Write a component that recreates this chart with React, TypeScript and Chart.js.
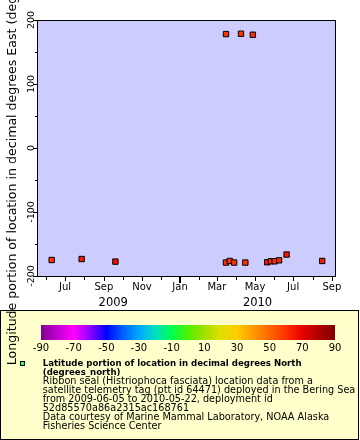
import React, { useEffect, useRef } from 'react';
import { Chart, registerables } from 'chart.js';

Chart.register(...registerables);

// ---------- data ----------
const pointDates = [
  '2009-06-09', '2009-07-27', '2009-09-19', '2010-03-15', '2010-03-15', '2010-03-21',
  '2010-03-28', '2010-04-08', '2010-04-15', '2010-04-27', '2010-05-20', '2010-05-26',
  '2010-06-01', '2010-06-08', '2010-06-20', '2010-08-16',
];
const longitudes = [
  -175, -173.5, -177.5, -179, 178, -176.5,
  -179, 178.5, -179, 177, -178.5, -177,
  -177, -175.5, -166.5, -176.5,
];
const latitudes = [
  60, 65, 67, 60, 60, 60,
  60, 60, 60, 61, 66, 61,
  61, 63, 65, 65,
];

const xRangeStart = '2009-05-17';
const xRangeEnd = '2010-09-06';
const yRangeMin = -200;
const yRangeMax = 200;
const yMajorTicks = [-200, -100, 0, 100, 200];
const yMinorTicks = [-150, -50, 50, 150];
const monthNames = ['Jan', 'Feb', 'Mar', 'Apr', 'May', 'Jun', 'Jul', 'Aug', 'Sep', 'Oct', 'Nov', 'Dec'];
const yearLabels = ['2009', '2010'];

const colorbarTicks = [-90, -70, -50, -30, -10, 10, 30, 50, 70, 90];
const paletteValues = [-90, -80, -70, -60, -50, -40, -30, -20, -10, 0, 10, 20, 30, 40, 50, 60, 70, 80, 90];
const paletteColors = [
  '#800090', '#c000d0', '#ff00ff', '#9000ff', '#0000ff', '#0060ff', '#00a8ff', '#00e0c0', '#00ff50',
  '#50f000', '#a0e000', '#e0e000', '#ffcc00', '#ff9900', '#ff6600', '#ff3300', '#e60000', '#b00000', '#800000',
];

const yAxisTitle = 'Longitude portion of location in decimal degrees East (degrees_east)';
const legendBoldLines = ['Latitude portion of location in decimal degrees North', '(degrees_north)'];
const legendLines = [
  'Ribbon seal (Histriophoca fasciata) location data from a',
  'satellite telemetry tag (ptt id 64471) deployed in the Bering Sea',
  'from 2009-06-05 to 2010-05-22, deployment id',
  '52d85570a86a2315ac168761',
  'Data courtesy of Marine Mammal Laboratory, NOAA Alaska',
  'Fisheries Science Center',
];

// ---------- helpers ----------
const FONT = '"DejaVu Sans", sans-serif';
const toMs = (s: string) => Date.parse(s + 'T00:00:00Z');

function hexToRgb(h: string) {
  const n = parseInt(h.slice(1), 16);
  return [(n >> 16) & 255, (n >> 8) & 255, n & 255];
}
function paletteColor(v: number) {
  if (v <= paletteValues[0]) return paletteColors[0];
  for (let i = 1; i < paletteValues.length; i++) {
    if (v <= paletteValues[i]) {
      const t = (v - paletteValues[i - 1]) / (paletteValues[i] - paletteValues[i - 1]);
      const a = hexToRgb(paletteColors[i - 1]);
      const b = hexToRgb(paletteColors[i]);
      const c = a.map((x, k) => Math.round(x + (b[k] - x) * t));
      return `rgb(${c[0]},${c[1]},${c[2]})`;
    }
  }
  return paletteColors[paletteColors.length - 1];
}

const decorPlugin = {
  id: 'decor',
  beforeDraw(chart: any) {
    const ctx = chart.ctx;
    const { left, top, right, bottom } = chart.chartArea;
    ctx.save();
    // legend box
    ctx.fillStyle = '#ffffcc';
    ctx.fillRect(0.5, 310.5, 358, 129);
    ctx.strokeStyle = '#000';
    ctx.lineWidth = 1;
    ctx.strokeRect(0.5, 310.5, 358, 129);
    // plot background
    ctx.fillStyle = '#ccccff';
    ctx.fillRect(left, top, right - left, bottom - top);
    ctx.restore();
  },
  afterDraw(chart: any) {
    const ctx = chart.ctx;
    const { left, top, right, bottom } = chart.chartArea;
    const xs = chart.scales.x;
    const ys = chart.scales.y;
    ctx.save();
    ctx.strokeStyle = '#000';
    ctx.fillStyle = '#000';
    // plot border
    ctx.lineWidth = 1;
    ctx.strokeRect(left + 0.5, top + 0.5, right - left, bottom - top);

    // x tick marks
    xs.ticks.forEach((t: any) => {
      const px = Math.round(xs.getPixelForValue(t.value));
      const m = new Date(t.value).getUTCMonth();
      let len = 3;
      let w = 1;
      if (m === 0) { len = 6; w = 2; } else if (m % 2 === 0) { len = 4; }
      ctx.lineWidth = w;
      ctx.beginPath();
      const xx = w === 2 ? px : px + 0.5;
      ctx.moveTo(xx, bottom + 1);
      ctx.lineTo(xx, bottom + 1 + len);
      ctx.stroke();
    });

    // y tick marks
    ctx.lineWidth = 1;
    yMajorTicks.forEach((v) => {
      const py = Math.round(ys.getPixelForValue(v)) + 0.5;
      ctx.beginPath();
      ctx.moveTo(left - 4, py);
      ctx.lineTo(left, py);
      ctx.stroke();
    });
    yMinorTicks.forEach((v) => {
      const py = Math.round(ys.getPixelForValue(v)) + 0.5;
      ctx.beginPath();
      ctx.moveTo(left - 2, py);
      ctx.lineTo(left, py);
      ctx.stroke();
    });

    // y tick labels (rotated)
    ctx.font = `9.5px ${FONT}`;
    ctx.textAlign = 'center';
    ctx.textBaseline = 'alphabetic';
    yMajorTicks.forEach((v) => {
      const py = ys.getPixelForValue(v);
      ctx.save();
      ctx.translate(34.3, py);
      ctx.rotate(-Math.PI / 2);
      ctx.fillText(String(v), 0, 0);
      ctx.restore();
    });

    // year labels
    ctx.font = `11.5px ${FONT}`;
    ctx.textAlign = 'center';
    yearLabels.forEach((yl) => {
      const yr = parseInt(yl, 10);
      const yearTicks = xs.ticks.filter((t: any) => new Date(t.value).getUTCFullYear() === yr);
      if (!yearTicks.length) return;
      const a = xs.getPixelForValue(yearTicks[0].value);
      const endVal = Math.min(xs.max, Date.UTC(yr + 1, 0, 1));
      const b = xs.getPixelForValue(endVal);
      ctx.fillText(yl, (a + b) / 2, 306);
    });

    // colorbar
    const cbL = 41;
    const cbR = 335;
    const cbT = 325;
    const cbB = 340;
    const vmin = colorbarTicks[0];
    const vmax = colorbarTicks[colorbarTicks.length - 1];
    const grad = ctx.createLinearGradient(cbL, 0, cbR, 0);
    paletteValues.forEach((v, i) => grad.addColorStop((v - vmin) / (vmax - vmin), paletteColors[i]));
    ctx.fillStyle = grad;
    ctx.fillRect(cbL, cbT, cbR - cbL, cbB - cbT);
    ctx.fillStyle = '#000';
    ctx.font = `10px ${FONT}`;
    ctx.textAlign = 'center';
    colorbarTicks.forEach((v) => {
      const px = cbL + ((v - vmin) / (vmax - vmin)) * (cbR - cbL);
      ctx.fillText(String(v), px, 350.7);
    });

    // legend marker
    ctx.fillStyle = '#40ff40';
    ctx.fillRect(20, 361, 5, 5);
    ctx.lineWidth = 1;
    ctx.strokeStyle = '#000';
    ctx.strokeRect(20.5, 361.5, 4, 4);

    // legend text
    ctx.fillStyle = '#000';
    ctx.textAlign = 'left';
    let yy = 366.3;
    const step = 8.9;
    ctx.font = `bold 8.6px ${FONT}`;
    legendBoldLines.forEach((l) => { ctx.fillText(l, 42.7, yy); yy += step; });
    ctx.font = `9.7px ${FONT}`;
    legendLines.forEach((l) => { ctx.fillText(l, 42.7, yy); yy += step; });
    ctx.restore();
  },
};

export default function App() {
  const ref = useRef<HTMLCanvasElement | null>(null);

  useEffect(() => {
    if (!ref.current) return;
    const points = pointDates.map((d, i) => ({ x: toMs(d) + 12 * 3600 * 1000, y: longitudes[i] }));
    const colors = latitudes.map((v) => paletteColor(v));
    const xMin = toMs(xRangeStart);
    const xMax = toMs(xRangeEnd);

    const chart = new Chart(ref.current, {
      type: 'scatter',
      data: {
        datasets: [
          {
            data: points,
            pointStyle: 'rect',
            pointRadius: 3.8,
            pointHoverRadius: 3.8,
            pointBackgroundColor: colors,
            pointBorderColor: '#000',
            pointBorderWidth: 1,
          },
        ],
      },
      options: {
        animation: false,
        responsive: false,
        devicePixelRatio: 1,
        events: [],
        layout: { padding: { left: 0, right: 25, top: 20, bottom: 134 } },
        plugins: { legend: { display: false }, tooltip: { enabled: false } },
        scales: {
          x: {
            type: 'linear',
            min: xMin,
            max: xMax,
            grid: { display: false, drawTicks: false },
            border: { display: false },
            afterBuildTicks: (scale: any) => {
              const ticks: any[] = [];
              const d0 = new Date(scale.min);
              let y = d0.getUTCFullYear();
              let m = d0.getUTCMonth() + 1;
              while (true) {
                if (m > 11) { m = 0; y += 1; }
                const v = Date.UTC(y, m, 1);
                if (v > scale.max) break;
                ticks.push({ value: v });
                m += 1;
              }
              scale.ticks = ticks;
            },
            ticks: {
              autoSkip: false,
              maxRotation: 0,
              minRotation: 0,
              padding: 5,
              color: '#000',
              font: { family: FONT, size: 10 },
              callback: (value: any) => {
                const m = new Date(Number(value)).getUTCMonth();
                return m % 2 === 0 ? monthNames[m] : '';
              },
            },
            afterFit: (scale: any) => { scale.height = 30; },
          },
          y: {
            min: yRangeMin,
            max: yRangeMax,
            grid: { display: false, drawTicks: false },
            border: { display: false },
            ticks: { display: false },
            title: {
              display: true,
              text: yAxisTitle,
              color: '#000',
              font: { family: FONT, size: 12.6 },
              padding: { top: 5, bottom: 0 },
            },
            afterFit: (scale: any) => { scale.width = 37; },
          },
        },
      },
      plugins: [decorPlugin],
    } as any);

    return () => chart.destroy();
  }, []);

  return (
    <div style={{ position: 'absolute', left: 0, top: 0, width: 360, height: 440, background: '#fff' }}>
      <canvas ref={ref} width={360} height={440} style={{ display: 'block', width: 360, height: 440 }} />
    </div>
  );
}
